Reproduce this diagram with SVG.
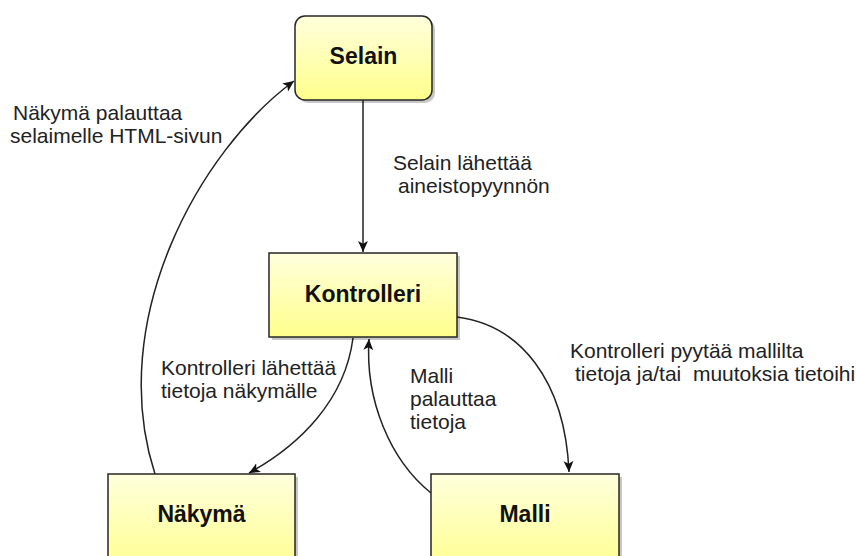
<svg xmlns="http://www.w3.org/2000/svg" width="856" height="556" viewBox="0 0 856 556">
<style>
.box{stroke:#262626;stroke-width:1.5;fill:url(#g)}
.sh{fill:#000;opacity:0.22}
.nl{font-family:"Liberation Sans",Arial,sans-serif;font-weight:bold;font-size:23px;fill:#111;text-anchor:middle}
.lb{font-family:"Liberation Sans",Arial,sans-serif;font-size:21px;fill:#222}
.c{fill:none;stroke:#222;stroke-width:1.5}
</style>
<defs>
<linearGradient id="g" x1="0" y1="0" x2="0" y2="1">
<stop offset="0" stop-color="#ffffdd"/>
<stop offset="1" stop-color="#ffff8c"/>
</linearGradient>
<marker id="a" viewBox="0 0 10 10" refX="10" refY="5" markerWidth="11" markerHeight="11" markerUnits="userSpaceOnUse" orient="auto">
<path d="M0,0.5 L10,5 L0,9.5 L2.5,5 z" fill="#111"/>
</marker>
</defs>
<g id="connectors">
<path class="c" d="M363,100 L363,252" marker-end="url(#a)"/>
<path class="c" d="M155,474 C105,320 200,150 294,81" marker-end="url(#a)"/>
<path class="c" d="M353,338 C345,400 300,445 249,473" marker-end="url(#a)"/>
<path class="c" d="M431,493 C390,460 365,400 369,339" marker-end="url(#a)"/>
<path class="c" d="M457,317 C520,325 565,380 569,472" marker-end="url(#a)"/>
</g>
<g id="selain">
<rect class="sh" x="298" y="19" width="137" height="84" rx="10"/>
<rect class="box" x="295" y="16" width="137" height="84" rx="10"/>
<text class="nl" x="363.5" y="64">Selain</text>
</g>
<g id="kontrolleri">
<rect class="sh" x="272" y="256" width="188" height="84"/>
<rect class="box" x="269" y="253" width="188" height="84"/>
<text class="nl" x="363" y="302">Kontrolleri</text>
</g>
<g id="nakyma">
<rect class="sh" x="111" y="477" width="187" height="100"/>
<rect class="box" x="108" y="474" width="187" height="100"/>
<text class="nl" x="201.5" y="522">Näkymä</text>
</g>
<g id="malli">
<rect class="sh" x="434" y="477" width="188" height="100"/>
<rect class="box" x="431" y="474" width="188" height="100"/>
<text class="nl" x="525" y="522">Malli</text>
</g>
<g id="labels">
<text class="lb" x="13" y="120">Näkymä palauttaa</text>
<text class="lb" x="10" y="143">selaimelle HTML-sivun</text>
<text class="lb" x="393" y="170">Selain lähettää</text>
<text class="lb" x="398" y="193">aineistopyynnön</text>
<text class="lb" x="161" y="375">Kontrolleri lähettää</text>
<text class="lb" x="161" y="398">tietoja näkymälle</text>
<text class="lb" x="410" y="383">Malli</text>
<text class="lb" x="410" y="406">palauttaa</text>
<text class="lb" x="410" y="429">tietoja</text>
<text class="lb" x="570" y="358">Kontrolleri pyytää mallilta</text>
<text class="lb" x="575" y="381" xml:space="preserve">tietoja ja/tai  muutoksia tietoihin</text>
</g>
</svg>
